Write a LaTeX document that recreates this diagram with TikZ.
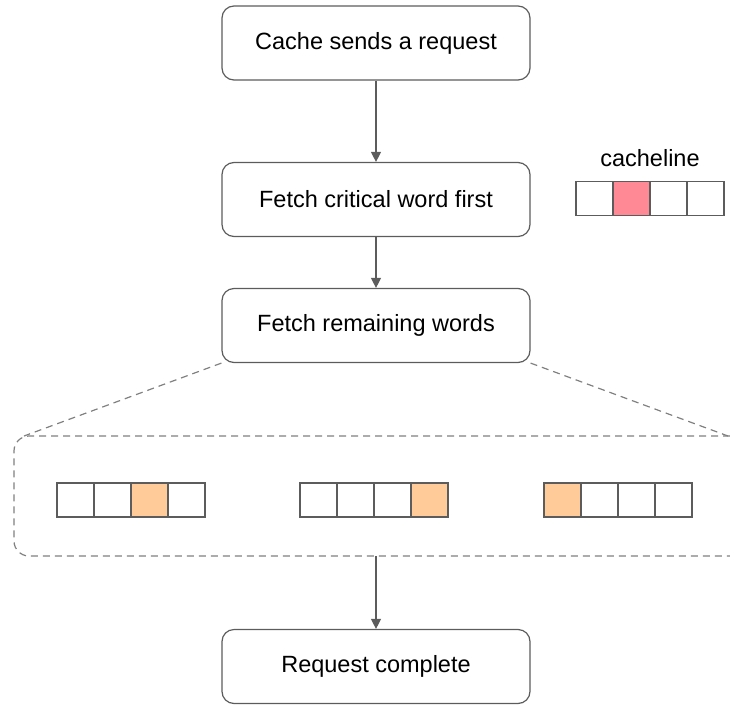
\documentclass[tikz,border=0pt]{standalone}
\usepackage{fontspec}
\setmainfont{Liberation Sans}
\usepackage{xcolor}
\usepackage{tikz}
\usetikzlibrary{positioning,arrows.meta,calc}
\definecolor{edge}{HTML}{5C5C5C}
\definecolor{hot}{HTML}{FF8A96}
\definecolor{warm}{HTML}{FFCC99}

\begin{document}
\begin{tikzpicture}[
  x=1pt, y=-1pt,
  font=\fontsize{23.5}{28}\selectfont,
  stepbox/.style={draw=edge, line width=1.2pt, rounded corners=12pt, minimum width=308pt, minimum height=74pt, inner sep=0pt},
  cell/.style={draw=edge, line width=1.2pt, minimum width=37pt, minimum height=34pt, inner sep=0pt},
  arr/.style={-{Triangle[length=10pt,width=10pt]}, line width=1.2pt, color=edge},
  zoomline/.style={dash pattern=on 7pt off 5pt, line width=1.2pt, color=gray}
]
  \useasboundingbox (0,0) rectangle (730,704);

  % MAIN FLOW (top -> bottom)
  \node[stepbox] (req) at (376, 43) {Cache sends a request};
  \node[stepbox] (crit) at (376, 199.5) {Fetch critical word first};
  \node[stepbox] (rest) at (376, 325.5) {Fetch remaining words};
  \node[stepbox] (done) at (376, 666.5) {Request complete};

  \draw[arr] (req) -- (crit);
  \draw[arr] (crit) -- (rest);

  % Legend: cacheline
  \node (legend) at (650, 158) {cacheline};
  \foreach \c [count=\i from 0] in {white,hot,white,white}
    \node[cell, fill=\c] (leg\i) at ({594.5+37*\i}, 198.5) {};

  % Zoom-in group (open on the right)
  \coordinate (gtl) at (14, 436);
  \coordinate (gbl) at (14, 556);
  \coordinate (gtr) at (730, 436);
  \coordinate (gbr) at (730, 556);
  \draw[zoomline, rounded corners=15pt] (gtr) -- (gtl) -- (gbl) -- (gbr);

  \coordinate (fl) at (24, 436);
  \coordinate (fr) at (728, 436);
  \draw[zoomline] (rest.south west) -- (fl);
  \draw[zoomline] (rest.south east) -- (fr);

  % Cachelines inside the group
  \foreach \c [count=\i from 0] in {white,white,warm,white}
    \node[cell, fill=\c] (a\i) at ({75.5+37*\i}, 500) {};
  \foreach \c [count=\i from 0] in {white,white,white,warm}
    \node[cell, fill=\c] (b\i) at ({318.5+37*\i}, 500) {};
  \foreach \c [count=\i from 0] in {warm,white,white,white}
    \node[cell, fill=\c] (c\i) at ({562.5+37*\i}, 500) {};

  \coordinate (gmid) at (376, 556);
  \draw[arr] (gmid) -- (done);

\end{tikzpicture}
\end{document}
